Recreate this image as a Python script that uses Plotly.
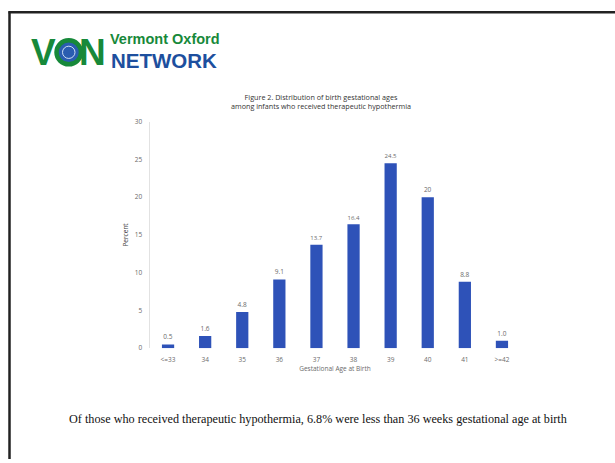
import plotly.graph_objects as go

W, H = 615, 463

categories = ["<=33", "34", "35", "36", "37", "38", "39", "40", "41", ">=42"]
percent = [0.5, 1.6, 4.8, 9.1, 13.7, 16.4, 24.5, 20, 8.8, 1.0]
bar_labels = ["0.5", "1.6", "4.8", "9.1", "13.7", "16.4", "24.5", "20", "8.8", "1.0"]
y_ticks = [0, 5, 10, 15, 20, 25, 30]

chart_title = "Figure 2. Distribution of birth gestational ages<br>among infants who received therapeutic hypothermia"
x_title = "Gestational Age at Birth"
y_title = "Percent"
footnote = "Of those who received therapeutic hypothermia, 6.8% were less than 36 weeks gestational age at birth"


def px(x):
    return x / W


def py(y):
    return 1 - y / H


GRAY = "#6b6b6b"
BLUE = "#2e52b8"

fig = go.Figure()
fig.add_trace(go.Bar(
    x=categories, y=percent, text=bar_labels, textposition="outside",
    textfont=dict(size=6.5, color=GRAY, family="Open Sans"),
    marker=dict(color=BLUE, line=dict(width=0)), width=0.33,
    cliponaxis=False,
))

fig.update_layout(
    width=W, height=H, margin=dict(l=0, r=0, t=0, b=0),
    paper_bgcolor="white", plot_bgcolor="white", showlegend=False,
    xaxis=dict(domain=[px(149.5), px(520.5)], anchor="y", showgrid=False,
               showline=False, ticks="", range=[-0.5, 9.5],
               ticklabelstandoff=6,
               tickfont=dict(size=6.5, color=GRAY, family="Open Sans"),
               title=dict(text=x_title, font=dict(size=6.5, color=GRAY, family="Open Sans"), standoff=3)),
    yaxis=dict(domain=[py(350), py(119)], anchor="x", range=[0, 30],
               tickvals=y_ticks, showgrid=False, zeroline=False,
               showline=True, linecolor="#e2e2e2", linewidth=1, ticks="",
               ticklabelstandoff=5,
               tickfont=dict(size=6.5, color=GRAY, family="Open Sans"),
               title=dict(text=y_title, font=dict(size=6.5, color="#444", family="Open Sans"), standoff=5)),
)

annotations = [
    dict(text=chart_title, x=px(321), y=py(98), xref="paper", yref="paper",
         showarrow=False, font=dict(size=7.2, color="#333", family="Open Sans"),
         align="center", xanchor="center", yanchor="middle"),
    dict(text=footnote, x=px(318), y=py(422), xref="paper", yref="paper",
         showarrow=False, font=dict(size=12.2, color="#111", family="Liberation Serif"),
         xanchor="center", yanchor="middle"),
    # logo text
    dict(text="V", x=px(29), y=py(48.5), xref="paper", yref="paper", showarrow=False,
         font=dict(size=37, color="#17893a", family="Liberation Sans", weight="bold"),
         xanchor="left", yanchor="middle"),
    dict(text="N", x=px(108), y=py(48.5), xref="paper", yref="paper", showarrow=False,
         font=dict(size=37, color="#17893a", family="Liberation Sans", weight="bold"),
         xanchor="right", yanchor="middle"),
    dict(text="Vermont Oxford", x=px(109), y=py(43.5), xref="paper", yref="paper", showarrow=False,
         font=dict(size=14.5, color="#17893a", family="Liberation Sans", weight="bold"),
         xanchor="left", yanchor="bottom", borderpad=0),
    dict(text="NETWORK", x=px(110), y=py(43.5), xref="paper", yref="paper", showarrow=False,
         font=dict(size=20.5, color="#1d4f9e", family="Liberation Sans", weight="bold"),
         xanchor="left", yanchor="top", borderpad=0),
]
fig.update_layout(annotations=annotations)

shapes = [
    # frame
    dict(type="line", xref="paper", yref="paper", x0=px(8.5), x1=px(615), y0=py(7.5), y1=py(7.5),
         line=dict(color="#222", width=2.5)),
    dict(type="line", xref="paper", yref="paper", x0=px(9.5), x1=px(9.5), y0=py(6.5), y1=py(463),
         line=dict(color="#222", width=2.5)),
    # globe "O"
    dict(type="circle", xref="paper", yref="paper", x0=px(56.5), x1=px(81), y0=py(60.5), y1=py(36),
         line=dict(color="#17893a", width=4.5), fillcolor="#2a5db0"),
    dict(type="circle", xref="paper", yref="paper", x0=px(62.5), x1=px(75), y0=py(54.5), y1=py(42),
         line=dict(color="#cfe0f5", width=1), fillcolor="rgba(0,0,0,0)"),
]
fig.update_layout(shapes=shapes)

fig.write_html("out.html")
